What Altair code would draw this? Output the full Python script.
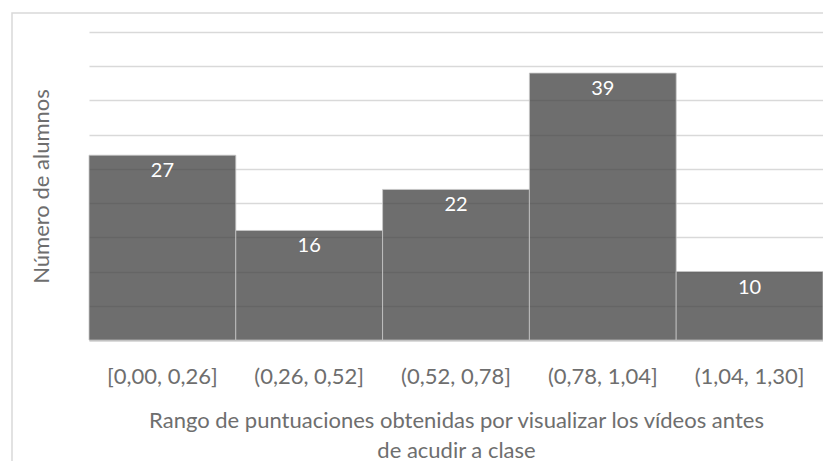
import altair as alt
import pandas as pd

categories = ["[0,00, 0,26]", "(0,26, 0,52]", "(0,52, 0,78]", "(0,78, 1,04]", "(1,04, 1,30]"]
counts = [27, 16, 22, 39, 10]
y_ticks = [0, 5, 10, 15, 20, 25, 30, 35, 40, 45]

df = pd.DataFrame({"rango": categories, "n": counts})

FONT = "Lato"
TXT = "#6e6e6e"

x_enc = alt.X(
    "rango:N",
    sort=categories,
    scale=alt.Scale(paddingInner=0, paddingOuter=0),
    axis=alt.Axis(
        title=["Rango de puntuaciones obtenidas por visualizar los vídeos antes", "de acudir a clase"],
        labelAngle=0,
        labelFont=FONT,
        labelFontSize=22,
        labelColor=TXT,
        labelPadding=36,
        labelBaseline="middle",
        ticks=False,
        domainColor="#bfbfbf",
        domainWidth=2,
        titleFont=FONT,
        titleFontSize=22,
        titleFontWeight="normal",
        titleColor=TXT,
        titlePadding=23,
        titleLineHeight=30,
    ),
)
y_enc = alt.Y(
    "n:Q",
    scale=alt.Scale(domain=[0, 45], nice=False),
    axis=alt.Axis(
        values=y_ticks,
        labels=False,
        ticks=False,
        domain=False,
        grid=True,
        gridColor="#d9d9d9",
        gridWidth=1.5,
        title="Número de alumnos",
        titleFont=FONT,
        titleFontSize=22,
        titleFontWeight="normal",
        titleColor=TXT,
        titleAngle=-90,
        titleX=-48,
        titleY=154,
        titleAlign="center",
        titleBaseline="middle",
    ),
)

base = alt.Chart(df)

frame = base.mark_rect(fill=None, stroke="#d9d9d9", strokeWidth=1.5, clip=False).encode(
    x=alt.value(-77), x2=alt.value(780), y=alt.value(-19), y2=alt.value(470)
).transform_filter(alt.datum.rango == categories[0])

bars = base.mark_bar(
    color="#404040", fillOpacity=0.76, stroke="#c8c8c8", strokeWidth=0.8
).encode(x=x_enc, y=y_enc)

labels = base.mark_text(
    color="white", font=FONT, fontSize=20, baseline="middle", dy=16
).encode(x=x_enc, y=y_enc, text="n:Q")

chart = (
    alt.layer(frame, bars, labels)
    .properties(
        width=734,
        height=308,
        autosize=alt.AutoSizeParams(type="none"),
        padding={"left": 81, "top": 24, "right": 0, "bottom": 121},
        background="white",
    )
    .configure_view(stroke=None)
)

chart.save("out.html", embed_options={"renderer": "svg", "actions": False})
